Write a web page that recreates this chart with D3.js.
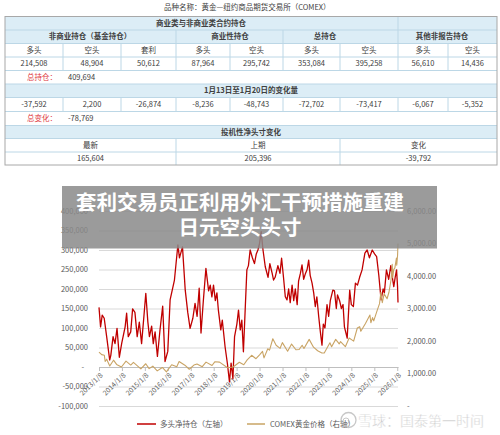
<!DOCTYPE html>
<html><head><meta charset="utf-8">
<script src="https://cdn.jsdelivr.net/npm/d3@7"></script>
<style>
body{margin:0;background:#fff;}
svg{display:block;font-family:"Noto Sans CJK SC","Noto Sans",sans-serif;}
</style></head><body>
<svg id="c" width="500" height="435"></svg>
<script>
// ---------- table data ----------
const tableTitle = "品种名称：黄金—纽约商品期货交易所（COMEX）";
const topHeader = "商业类与非商业类合约持仓";
const groupHeaders = ["非商业持仓（基金持仓）", "商业性持仓", "总持仓", "其他非报告持仓"];
const groupSpans = [[0, 3], [3, 5], [5, 7], [7, 9]];
const positionHeaders = ["多头", "空头", "套利", "多头", "空头", "多头", "空头", "多头", "空头"];
const positions = [214508, 48904, 50612, 87964, 295742, 353084, 395258, 56610, 14436];
const totalLabel = "总持仓：";
const totalOpenInterest = 409694;
const changeTitle = "1月13日至1月20日的变化量";
const changes = [-37592, 2200, -26874, -8236, -48743, -72702, -73417, -6067, -5352];
const totalChangeLabel = "总变化：";
const totalChange = -78769;
const netTitle = "投机性净头寸变化";
const netHeaders = ["最新", "上期", "变化"];
const netValues = [165604, 205396, -39792];

// ---------- chart data ----------
const titleLines = ["套利交易员正利用外汇干预措施重建", "日元空头头寸"];
const seriesNames = ["多头净持仓（左轴）", "COMEX黄金价格（右轴）"];
const tickLabels = ["2013/1/8","2014/1/8","2015/1/8","2016/1/8","2017/1/8","2018/1/8","2019/1/8",
  "2020/1/8","2021/1/8","2022/1/8","2023/1/8","2024/1/8","2025/1/8","2026/1/8"];
const leftTicks = [-100000,-50000,0,50000,100000,150000,200000,250000,300000,350000,400000];
const rightTicks = [0,1000,2000,3000,4000,5000,6000];

const netDates = ["2013-01-08","2013-02-02","2013-02-28","2013-04-01","2013-05-10","2013-06-27","2013-07-15","2013-08-20","2013-09-20","2013-10-22","2013-11-28",
"2014-01-05","2014-02-28","2014-03-24","2014-04-19","2014-05-28","2014-06-27","2014-08-03","2014-09-08","2014-10-12","2014-11-17","2014-12-24",
"2015-01-23","2015-02-25","2015-03-22","2015-04-26","2015-05-22","2015-06-20","2015-07-27","2015-09-06","2015-10-19","2015-11-25",
"2016-01-08","2016-02-14","2016-04-23","2016-05-19","2016-06-17","2016-07-12","2016-08-29","2016-10-12","2016-11-21","2016-12-28",
"2017-02-10","2017-03-17","2017-04-19","2017-05-22","2017-06-20","2017-07-27","2017-09-06","2017-10-19","2017-11-14","2017-12-10",
"2018-01-05","2018-02-03","2018-02-28","2018-03-24","2018-05-01","2018-05-25","2018-07-08","2018-08-14","2018-09-16","2018-10-12","2018-11-10","2018-12-06",
"2019-01-12","2019-02-07","2019-03-07","2019-04-01","2019-04-26","2019-05-25","2019-06-20","2019-07-15","2019-08-11","2019-09-16","2019-10-19","2019-11-17","2019-12-13",
"2020-01-08","2020-02-03","2020-03-03","2020-04-08","2020-05-22","2020-06-20","2020-07-27","2020-08-18","2020-09-12","2020-10-26","2020-11-28","2020-12-24",
"2021-01-23","2021-02-21","2021-03-20","2021-04-15","2021-05-10","2021-06-09","2021-07-05","2021-07-30","2021-08-29","2021-09-20","2021-10-19","2021-11-14","2021-12-10",
"2022-01-08","2022-02-03","2022-02-28","2022-03-24","2022-04-23","2022-05-19","2022-06-13","2022-07-08","2022-08-07","2022-09-02","2022-09-28","2022-10-19","2022-11-14","2022-12-17",
"2023-01-12","2023-02-07","2023-03-20","2023-04-15","2023-05-14","2023-06-02","2023-07-05","2023-08-03","2023-08-29","2023-09-20","2023-11-03","2023-12-13",
"2024-01-08","2024-02-10","2024-03-13","2024-04-15","2024-05-19","2024-06-27","2024-08-11","2024-09-16","2024-10-22","2024-12-06",
"2025-01-12","2025-02-14","2025-03-20","2025-04-26","2025-05-28","2025-06-17","2025-07-20","2025-08-25","2025-09-27","2025-10-22","2025-11-14","2025-12-06","2025-12-28",
"2026-01-13","2026-01-20"];
const netLong = [153000,103000,133000,125000,78000,18000,30000,78000,60000,99000,25000,
61000,103000,138000,78000,90000,149000,140000,78000,115000,60000,130000,
189000,115000,78000,105000,60000,90000,27000,95000,156000,14000,
40000,172000,223000,266000,313000,280000,308000,197000,140000,99000,
125000,163000,130000,202000,87000,170000,253000,195000,210000,180000,
210000,170000,190000,145000,95000,120000,52000,9000,-38000,10000,-30000,78000,
110000,146000,95000,120000,39000,150000,249000,260000,300000,280000,265000,290000,300000,
317000,347000,300000,257000,230000,265000,240000,223000,230000,260000,240000,279000,
230000,180000,172000,200000,165000,210000,170000,200000,160000,220000,240000,262000,225000,
240000,250000,274000,235000,215000,190000,155000,180000,129000,90000,56000,110000,100000,160000,
130000,170000,197000,195000,150000,185000,170000,150000,160000,103000,74000,197000,
160000,155000,215000,210000,230000,249000,292000,300000,280000,300000,
290000,283000,236000,172000,200000,190000,249000,225000,260000,230000,206000,230000,249000,
205396,165604];

const goldDates = ["2013-01-08","2013-02-20","2013-04-03","2013-04-16","2013-05-10","2013-06-28","2013-08-27","2013-10-15","2013-12-31",
"2014-03-14","2014-05-28","2014-07-10","2014-11-05","2015-01-22","2015-03-17","2015-05-15","2015-07-24","2015-10-14","2015-12-17",
"2016-03-10","2016-05-30","2016-07-06","2016-10-06","2016-12-15","2017-02-27","2017-04-17","2017-07-10","2017-09-08","2017-12-12",
"2018-01-25","2018-04-11","2018-08-16","2018-11-13","2019-02-20","2019-05-02","2019-06-25","2019-09-04","2019-11-12",
"2020-01-08","2020-02-24","2020-03-19","2020-05-18","2020-06-15","2020-08-06","2020-09-28","2020-11-30",
"2021-01-05","2021-03-30","2021-06-01","2021-08-09","2021-09-29","2021-11-16","2021-12-15",
"2022-03-08","2022-05-16","2022-07-21","2022-09-26","2022-11-03","2023-02-01","2023-02-28","2023-05-04","2023-06-29","2023-07-20","2023-10-05","2023-12-04",
"2024-02-14","2024-04-12","2024-05-20","2024-06-07","2024-08-20","2024-10-30","2024-11-14","2024-12-11","2024-12-30",
"2025-02-24","2025-04-01","2025-04-22","2025-05-15","2025-06-13","2025-07-30","2025-08-29","2025-09-30","2025-10-20","2025-10-28","2025-11-13","2025-12-01","2025-12-26","2025-12-31",
"2026-01-13","2026-01-20"];
const goldPrice = [1660,1580,1560,1370,1440,1230,1410,1280,1200,
1380,1260,1340,1140,1300,1150,1225,1080,1185,1050,
1270,1210,1370,1255,1130,1260,1290,1210,1350,1245,
1360,1350,1175,1200,1345,1270,1420,1560,1455,
1575,1680,1480,1760,1720,2070,1870,1775,
1950,1685,1905,1730,1740,1870,1770,
2050,1810,1700,1630,1630,1945,1825,2050,1910,1980,1825,2090,
1995,2400,2440,2300,2540,2800,2560,2720,2620,
2950,3150,3500,3180,3450,3300,3500,3870,4360,3950,4200,4250,4550,4330,
4630,5000];

const watermark = "雪球：国泰第一时间";

// ---------- drawing ----------
const svg = d3.select("#c");
const loc = d3.formatLocale({decimal: ".", thousands: ",", grouping: [3], currency: ["", ""], minus: "-"});
const fmt = loc.format(",");
const fmt2 = loc.format(",.2f");
const parse = d3.timeParse("%Y-%m-%d");
const textCol = "#404040";

// table
const colX = [5, 63, 121, 176, 230, 283, 340, 398, 448, 497];
const rowY = [16.5, 30, 43.5, 57, 70.5, 84, 97.5, 111.5, 125.5, 138.5, 152, 165];
const blue = "#dcedf6", lineCol = "#bcd7e6";
const T = svg.append("g").attr("font-size", 7.5).attr("fill", textCol);

T.append("text").attr("x", 164).attr("y", 10).text(tableTitle);
[0, 1, 5, 8].forEach(r => {
  T.append("rect").attr("x", colX[0]).attr("y", rowY[r]).attr("width", colX[9] - colX[0])
    .attr("height", rowY[r + 1] - rowY[r]).attr("fill", blue);
});
rowY.forEach((y, i) => {
  if (i === 0 || i === rowY.length - 1) return;
  T.append("line").attr("x1", colX[0]).attr("x2", colX[9]).attr("y1", y).attr("y2", y)
    .attr("stroke", lineCol).attr("stroke-width", 1);
});
function vline(x, r0, r1) {
  T.append("line").attr("x1", x).attr("x2", x).attr("y1", rowY[r0]).attr("y2", rowY[r1])
    .attr("stroke", lineCol).attr("stroke-width", 1);
}
vline(colX[7], 0, 2);
[3, 5].forEach(c => vline(colX[c], 1, 2));
for (let c = 1; c < 9; c++) { vline(colX[c], 2, 4); vline(colX[c], 6, 7); }
vline(176, 9, 11); vline(340, 9, 11);
T.append("rect").attr("x", colX[0]).attr("y", rowY[0]).attr("width", colX[9] - colX[0])
  .attr("height", rowY[11] - rowY[0]).attr("fill", "none").attr("stroke", "#a8a8a8");

const mid = r => (rowY[r] + rowY[r + 1]) / 2;
const cc = c => (colX[c] + colX[c + 1]) / 2;
function cell(x, r, s, opts = {}) {
  T.append("text").attr("x", x).attr("y", mid(r)).attr("dy", "0.36em")
    .attr("text-anchor", opts.anchor || "middle").attr("font-weight", opts.bold ? "bold" : null)
    .attr("fill", opts.fill || textCol).text(s);
}
cell(201, 0, topHeader, {bold: true});
const groupX = [90, 230, 325, 442];
groupHeaders.forEach((g, i) => cell(groupX[i], 1, g, {bold: true}));
positionHeaders.forEach((h, i) => cell(cc(i), 2, h));
positions.forEach((v, i) => cell(cc(i), 3, fmt(v)));
cell(42, 4, totalLabel, {fill: "#e0383e"});
cell(68, 4, fmt(totalOpenInterest), {anchor: "start"});
cell(251, 5, changeTitle, {bold: true});
changes.forEach((v, i) => cell(cc(i), 6, fmt(v)));
cell(42, 7, totalChangeLabel, {fill: "#e0383e"});
cell(68, 7, fmt(totalChange), {anchor: "start"});
cell(251, 8, netTitle, {bold: true});
const netCols = [5, 176, 340, 497];
netHeaders.forEach((h, i) => cell((netCols[i] + netCols[i + 1]) / 2, 9, h));
netValues.forEach((v, i) => cell((netCols[i] + netCols[i + 1]) / 2, 10, fmt(v)));

// chart
const x = d3.scaleTime().domain([new Date(2013, 0, 8), new Date(2026, 0, 20)]).range([99, 398]);
const yL = d3.scaleLinear().domain([-100000, 400000]).range([406, 211]);
const yR = d3.scaleLinear().domain([0, 6000]).range([406, 211]);
const axisCol = "#595959";

const grid = svg.append("g").attr("transform", "translate(99,0)")
  .call(d3.axisLeft(yL).tickValues(leftTicks.filter(v => v !== 0)).tickSize(-299).tickFormat(""));
grid.select(".domain").remove();
grid.selectAll("line").attr("stroke", "#d9d9d9");

const la = svg.append("g").attr("transform", "translate(88,0)")
  .call(d3.axisLeft(yL).tickValues(leftTicks).tickSize(0).tickPadding(0)
    .tickFormat(d => d === 0 ? "-" : fmt(d)));
la.select(".domain").remove();
la.selectAll("text").attr("font-size", 7.5).attr("fill", axisCol).attr("font-family", "Noto Sans CJK SC")
  .attr("dx", d => d === 0 ? -4 : 0);

const ra = svg.append("g").attr("transform", "translate(407,0)")
  .call(d3.axisRight(yR).tickValues(rightTicks).tickSize(0).tickPadding(0)
    .tickFormat(d => d === 0 ? "-" : fmt2(d)));
ra.select(".domain").remove();
ra.selectAll("text").attr("font-size", 7.5).attr("fill", axisCol).attr("font-family", "Noto Sans CJK SC");

const tickDates = tickLabels.map(s => d3.timeParse("%Y/%m/%d")(s));
const xa = svg.append("g").attr("transform", `translate(0,${yL(0)})`)
  .call(d3.axisBottom(x).tickValues(tickDates).tickSize(4).tickSizeOuter(0)
    .tickFormat((d, i) => tickLabels[i]));
xa.select(".domain").attr("stroke", "#bfbfbf");
xa.selectAll(".tick line").attr("stroke", "#bfbfbf");
xa.selectAll("text").attr("font-size", 7).attr("fill", axisCol).attr("font-family", "Noto Sans CJK SC")
  .attr("x", 0).attr("y", 0).attr("dy", "0.35em").attr("text-anchor", "end")
  .attr("transform", "translate(2,7) rotate(-45)");

const netData = netDates.map((d, i) => ({d: parse(d), v: netLong[i]}));
const goldData = goldDates.map((d, i) => ({d: parse(d), v: goldPrice[i]}));
svg.append("path").datum(netData).attr("fill", "none").attr("stroke", "#c00000").attr("stroke-width", 1.3)
  .attr("stroke-linejoin", "round")
  .attr("d", d3.line().x(p => x(p.d)).y(p => yL(p.v)));
svg.append("path").datum(goldData).attr("fill", "none").attr("stroke", "#c9a465").attr("stroke-width", 1.1)
  .attr("stroke-linejoin", "round")
  .attr("d", d3.line().x(p => x(p.d)).y(p => yR(p.v)));

// legend
const lg = svg.append("g").attr("font-size", 7.5).attr("fill", axisCol);
lg.append("line").attr("x1", 137).attr("x2", 156).attr("y1", 424).attr("y2", 424).attr("stroke", "#c00000").attr("stroke-width", 1.5);
lg.append("text").attr("x", 160).attr("y", 424).attr("dy", "0.36em").text(seriesNames[0]);
lg.append("line").attr("x1", 247).attr("x2", 265).attr("y1", 424).attr("y2", 424).attr("stroke", "#c9a465").attr("stroke-width", 1.5);
lg.append("text").attr("x", 270).attr("y", 424).attr("dy", "0.36em").text(seriesNames[1]);

// title banner
svg.append("rect").attr("x", 62).attr("y", 186).attr("width", 375).attr("height", 62.5)
  .attr("fill", "#8a8a8a").attr("opacity", 0.85);
titleLines.forEach((s, i) => {
  svg.append("text").attr("x", 240).attr("y", 210 + i * 24.5).attr("text-anchor", "middle")
    .attr("font-size", 20.5).attr("font-weight", "bold").attr("fill", "#fff").text(s);
});

// watermark
const wm = svg.append("g").attr("opacity", 0.75);
wm.append("circle").attr("cx", 348.5).attr("cy", 420).attr("r", 7.5).attr("fill", "none")
  .attr("stroke", "#b5b5b5").attr("stroke-width", 1.3);
wm.append("circle").attr("cx", 346).attr("cy", 421).attr("r", 3).attr("fill", "none")
  .attr("stroke", "#b5b5b5").attr("stroke-width", 1);
wm.append("text").attr("x", 358).attr("y", 426).attr("font-size", 14).attr("fill", "#b8b8b8")
  .attr("stroke", "#fff").attr("stroke-width", 0.4).text(watermark);
</script>
</body></html>
